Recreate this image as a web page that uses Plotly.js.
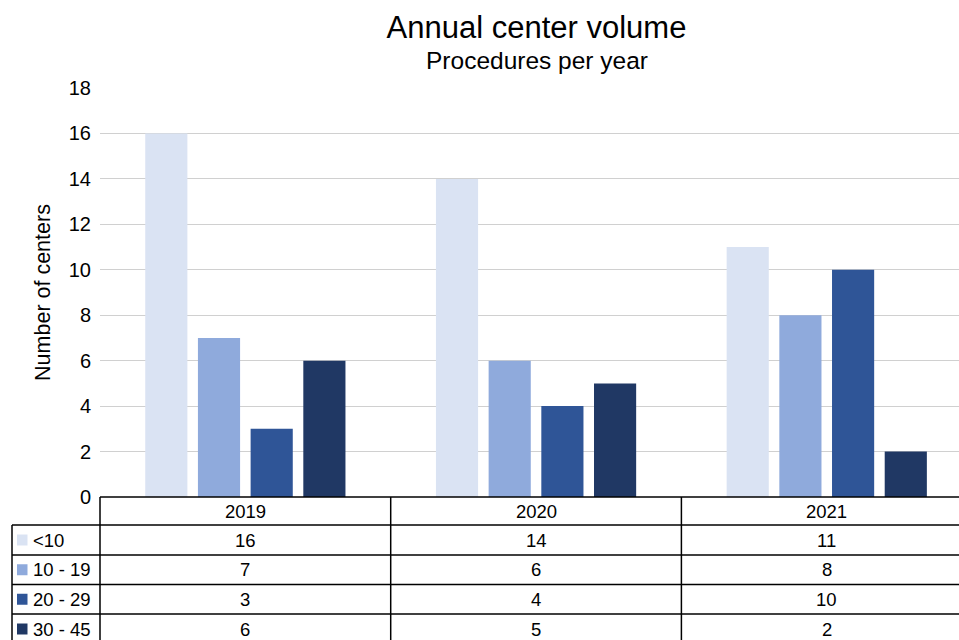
<!DOCTYPE html>
<html>
<head>
<meta charset="utf-8">
<script src="https://cdn.plot.ly/plotly-3.0.1.min.js"></script>
<style>html,body{margin:0;padding:0;background:#fff;overflow:hidden;}</style>
</head>
<body>
<div id="chart" style="width:959px;height:640px;"></div>
<script>
// ---- data ----
const years = ['2019', '2020', '2021'];
const seriesNames = ['<10', '10 - 19', '20 - 29', '30 - 45'];
const vLt10 = [16, 14, 11];
const v10to19 = [7, 6, 8];
const v20to29 = [3, 4, 10];
const v30to45 = [6, 5, 2];
const yTicks = [0, 2, 4, 6, 8, 10, 12, 14, 16, 18];

const seriesValues = [vLt10, v10to19, v20to29, v30to45];
const colors = ['#DAE3F3', '#8FAADC', '#2F5597', '#203864'];

// ---- layout geometry (pixels) ----
const W = 959, H = 640;
const mL = 100, mT = 88, mB = 143, mR = 0;
const plotH = H - mT - mB;           // 409
const plotW = W - mL - mR;           // 859
const catW = 290.7;                  // px per category
const FONT = 'Liberation Sans, Arial, sans-serif';
const TABLE_SIZE = 18.5;
const py = p => (H - mB - p) / plotH; // pixel y -> paper y
const px = p => (p - mL) / plotW;     // pixel x -> paper x

const traces = seriesValues.map((vals, i) => ({
  type: 'bar',
  name: seriesNames[i],
  x: years,
  y: vals,
  marker: {color: colors[i], line: {width: 0}},
  hoverinfo: 'x+y+name'
}));

const shapes = [];
const annotations = [];
const lineStyle = {color: '#000', width: 1.5};
// table row boundaries (px)
const rowTops = [497, 525, 555, 584.5, 614, 644];
// horizontal lines
shapes.push({type: 'line', xref: 'paper', yref: 'paper', x0: 0, x1: 1.02, y0: py(497), y1: py(497), line: lineStyle});
for (let r = 1; r < rowTops.length; r++) {
  shapes.push({type: 'line', xref: 'paper', yref: 'paper', x0: px(12), x1: 1.02, y0: py(rowTops[r]), y1: py(rowTops[r]), line: lineStyle});
}
// vertical lines
shapes.push({type: 'line', xref: 'paper', yref: 'paper', x0: px(12), x1: px(12), y0: py(525), y1: py(650), line: lineStyle});
shapes.push({type: 'line', xref: 'paper', yref: 'paper', x0: 0, x1: 0, y0: py(497), y1: py(650), line: lineStyle});
[0.5, 1.5, 2.5].forEach(b => {
  shapes.push({type: 'line', xref: 'x', yref: 'paper', x0: b, x1: b, y0: py(497), y1: py(650), line: lineStyle});
});

// header row (years)
years.forEach((yr, j) => {
  annotations.push({xref: 'x', yref: 'paper', x: j, y: py((rowTops[0] + rowTops[1]) / 2),
    text: yr, showarrow: false, xanchor: 'center', yanchor: 'middle',
    font: {family: FONT, size: TABLE_SIZE, color: '#000'}});
});
// data rows
seriesValues.forEach((vals, i) => {
  const cy = (rowTops[i + 1] + rowTops[i + 2]) / 2;
  // legend key
  shapes.push({type: 'rect', xref: 'paper', yref: 'paper', x0: px(17), x1: px(27.5),
    y0: py(cy - 5.5), y1: py(cy + 5.5), fillcolor: colors[i], line: {width: 0}});
  annotations.push({xref: 'paper', yref: 'paper', x: px(31), y: py(cy),
    text: seriesNames[i].replace('<', '&lt;'), showarrow: false, xanchor: 'left', yanchor: 'middle',
    font: {family: FONT, size: TABLE_SIZE, color: '#000'}});
  vals.forEach((v, j) => {
    annotations.push({xref: 'x', yref: 'paper', x: j, y: py(cy),
      text: String(v), showarrow: false, xanchor: 'center', yanchor: 'middle',
      font: {family: FONT, size: TABLE_SIZE, color: '#000'}});
  });
});

// subtitle
annotations.push({xref: 'paper', yref: 'paper', x: px(536.5), y: py(61),
  text: 'Procedures per year', showarrow: false, xanchor: 'center', yanchor: 'middle',
  font: {family: FONT, size: 24.5, color: '#000'}});

const layout = {
  width: W, height: H,
  margin: {l: mL, r: mR, t: mT, b: mB, pad: 0},
  paper_bgcolor: '#fff', plot_bgcolor: '#fff',
  font: {family: FONT, color: '#000'},
  title: {text: 'Annual center volume', xref: 'paper', x: px(536.5), xanchor: 'center',
    yref: 'container', y: 1 - 27 / H, yanchor: 'middle',
    font: {family: FONT, size: 31, color: '#000'}},
  showlegend: false,
  barmode: 'group',
  bargap: 0.275,
  bargroupgap: 0.2,
  xaxis: {
    type: 'category',
    range: [-0.5, -0.5 + plotW / catW],
    showticklabels: false, showgrid: false, zeroline: false, showline: false,
    ticks: ''
  },
  yaxis: {
    range: [0, 18],
    tickvals: yTicks,
    ticks: '', ticklabelstandoff: 8,
    showgrid: true, gridcolor: '#D0D0D0', gridwidth: 1,
    zeroline: false, showline: false,
    tickfont: {family: FONT, size: 20, color: '#000'},
    title: {text: 'Number of centers', standoff: 12, font: {family: FONT, size: 21.5, color: '#000'}}
  },
  shapes: shapes,
  annotations: annotations
};

Plotly.newPlot('chart', traces, layout, {displayModeBar: false, staticPlot: true});
</script>
</body>
</html>
